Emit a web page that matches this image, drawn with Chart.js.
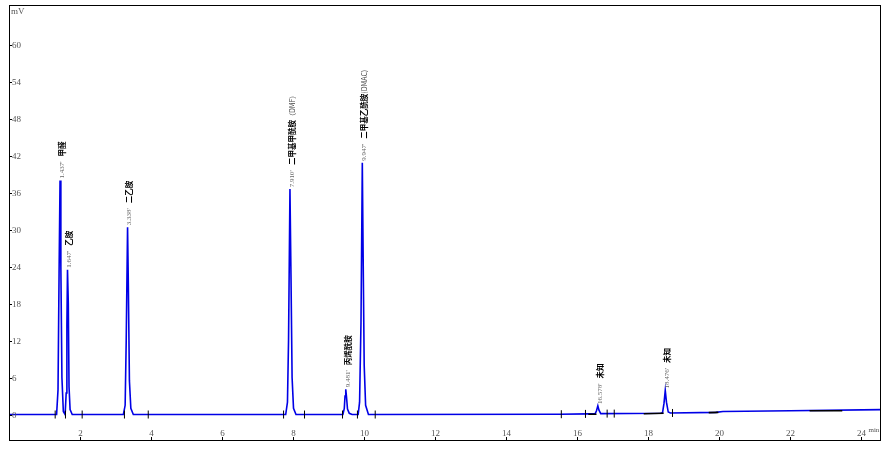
<!DOCTYPE html>
<html>
<head>
<meta charset="utf-8">
<script src="https://cdn.jsdelivr.net/npm/chart.js@4"></script>
<style>
  html, body { margin: 0; padding: 0; background: #fff; }
  #wrap { width: 893px; height: 452px; }
</style>
</head>
<body>
<div id="wrap"><canvas id="chroma"></canvas></div>
<script>
// chromatogram trace (min, mV)
const traceTimes = [
  0.00, 1.34, 1.38, 1.41, 1.437, 1.46, 1.49, 1.53,
  1.58, 1.61, 1.63, 1.647, 1.67, 1.69, 1.72, 1.78,
  3.22, 3.27, 3.30, 3.338, 3.36, 3.39, 3.43, 3.50,
  7.79, 7.84, 7.87, 7.910, 7.94, 7.97, 8.01, 8.08,
  9.40, 9.44, 9.46, 9.481, 9.50, 9.53, 9.58, 9.66,
  9.83, 9.87, 9.91, 9.947, 9.97, 10.00, 10.04, 10.12,
  15.50, 16.30, 16.50, 16.54, 16.578, 16.61, 16.66,
  18.35, 18.40, 18.44, 18.476, 18.51, 18.56, 18.62,
  19.90, 20.10, 22.00, 24.55
];
const traceValues = [
  0.0, 0.0, 4.0, 23.0, 38.0, 24.0, 6.0, 0.5,
  0.0, 3.5, 14.5, 23.5, 18.0, 4.5, 0.8, 0.0,
  0.0, 1.5, 12.0, 30.4, 21.0, 5.5, 1.0, 0.0,
  0.0, 2.0, 12.0, 36.6, 22.0, 6.0, 1.0, 0.0,
  0.0, 1.0, 3.0, 4.1, 3.0, 0.9, 0.2, 0.0,
  0.0, 2.0, 15.0, 40.9, 26.0, 8.0, 1.5, 0.0,
  0.05, 0.1, 0.1, 0.6, 1.4, 0.7, 0.15,
  0.2, 0.3, 1.8, 3.9, 2.0, 0.4, 0.25,
  0.35, 0.5, 0.6, 0.8
];

// peak annotations
const peakTimes = [1.437, 1.647, 3.338, 7.910, 9.481, 9.947, 16.578, 18.476];
const peakHeights = [38.0, 23.5, 30.4, 36.6, 4.1, 40.9, 1.4, 3.9];
const peakNames = ['甲醛', '乙胺', '二乙胺', '二甲基甲酰胺', '丙烯酰胺', '二甲基乙酰胺', '未知', '未知'];
const peakSuffix = ['', '', '', '（DMF）', '', '(DMAC)', '', ''];

// integration start/end marks
const markTimes = [1.30, 1.59, 2.06, 3.25, 3.92, 7.73, 8.32, 9.39, 9.81, 10.31, 15.55, 16.23, 16.84, 17.04, 18.68];
const markValues = [0, 0, 0, 0, 0, 0, 0, 0, 0, 0, 0.05, 0.1, 0.15, 0.15, 0.25];

// integration baselines (black segments)
const bandTimes = [16.31, 16.54, null, 17.87, 18.43, null, 19.70, 19.97, null, 22.54, 23.46];
const bandValues = [0.05, 0.05, null, 0.12, 0.2, null, 0.3, 0.35, null, 0.6, 0.6];

const xTicks = [2, 4, 6, 8, 10, 12, 14, 16, 18, 20, 22, 24];
const yTicks = [0, 6, 12, 18, 24, 30, 36, 42, 48, 54, 60];

const trace = traceTimes.map((t, i) => ({x: t, y: traceValues[i]}));
const marks = markTimes.map((t, i) => ({x: t, y: markValues[i]}));
const bands = bandTimes.map((t, i) => (t === null ? {x: null, y: null} : {x: t, y: bandValues[i]}));

const serif = '"Liberation Serif", "DejaVu Serif", serif';

const framePlugin = {
  id: 'frame',
  afterDatasetsDraw(chart) {
    const ctx = chart.ctx;
    const a = chart.chartArea;
    const xs = chart.scales.x, ys = chart.scales.y;
    ctx.save();
    ctx.strokeStyle = '#000';
    ctx.lineWidth = 1;
    ctx.strokeRect(a.left + 0.5, a.top + 0.5, a.right - a.left - 1, a.bottom - a.top - 1);

    // y ticks, labels drawn inside the frame
    ctx.fillStyle = '#555';
    ctx.font = '9px ' + serif;
    ctx.textAlign = 'left';
    ctx.textBaseline = 'middle';
    yTicks.forEach(v => {
      const py = Math.round(ys.getPixelForValue(v)) + 0.5;
      ctx.beginPath();
      ctx.moveTo(a.left, py);
      ctx.lineTo(a.left + 3, py);
      ctx.stroke();
      ctx.fillText(String(v), a.left + 3, py);
    });
    ctx.fillText('mV', a.left + 2, a.top + 7);

    // x ticks on the bottom border, labels above them
    ctx.textAlign = 'center';
    ctx.textBaseline = 'alphabetic';
    xTicks.forEach(v => {
      const px = Math.round(xs.getPixelForValue(v)) + 0.5;
      ctx.beginPath();
      ctx.moveTo(px, a.bottom);
      ctx.lineTo(px, a.bottom - 4);
      ctx.stroke();
      ctx.fillText(String(v), px, a.bottom - 5);
    });
    ctx.font = '7px ' + serif;
    ctx.textAlign = 'left';
    ctx.fillText('min', xs.getPixelForValue(24) + 7, a.bottom - 9);

    // peak labels, rotated, reading bottom to top
    peakTimes.forEach((t, i) => {
      const px = xs.getPixelForValue(t);
      const py = ys.getPixelForValue(peakHeights[i]) - 2;
      ctx.save();
      ctx.translate(px + 2, py);
      ctx.rotate(-Math.PI / 2);
      ctx.textAlign = 'left';
      ctx.textBaseline = 'middle';
      ctx.fillStyle = '#666';
      ctx.font = '7px ' + serif;
      const rt = t.toFixed(3) + "'";
      ctx.fillText(rt, 0, 0);
      let off = ctx.measureText(rt).width + 5;
      ctx.fillStyle = '#000';
      ctx.font = 'bold 7.5px "Noto Sans CJK SC", ' + serif;
      ctx.fillText(peakNames[i], off, 0);
      off += ctx.measureText(peakNames[i]).width;
      if (peakSuffix[i]) {
        ctx.fillStyle = '#444';
        ctx.font = '7px "Noto Sans CJK SC", ' + serif;
        ctx.fillText(peakSuffix[i], off, 0);
      }
      ctx.restore();
    });
    ctx.restore();
  }
};

new Chart('chroma', {
  type: 'line',
  data: {
    datasets: [
      {
        data: trace,
        borderColor: '#0000e6',
        borderWidth: 1.6,
        pointRadius: 0,
        tension: 0,
        order: 2
      },
      {
        data: bands,
        borderColor: '#000',
        borderWidth: 1.6,
        pointRadius: 0,
        spanGaps: false,
        order: 1
      },
      {
        type: 'scatter',
        data: marks,
        pointStyle: 'line',
        rotation: 90,
        radius: 4,
        borderColor: '#000',
        borderWidth: 1,
        order: 0
      }
    ]
  },
  options: {
    responsive: true,
    maintainAspectRatio: false,
    animation: false,
    events: [],
    layout: {padding: {left: 9, top: 4, right: 12, bottom: 11}},
    plugins: {legend: {display: false}, tooltip: {enabled: false}},
    scales: {
      x: {type: 'linear', min: 0, max: 24.55, display: false},
      y: {type: 'linear', min: -4.3, max: 66.5, display: false}
    }
  },
  plugins: [framePlugin]
});
</script>
</body>
</html>
